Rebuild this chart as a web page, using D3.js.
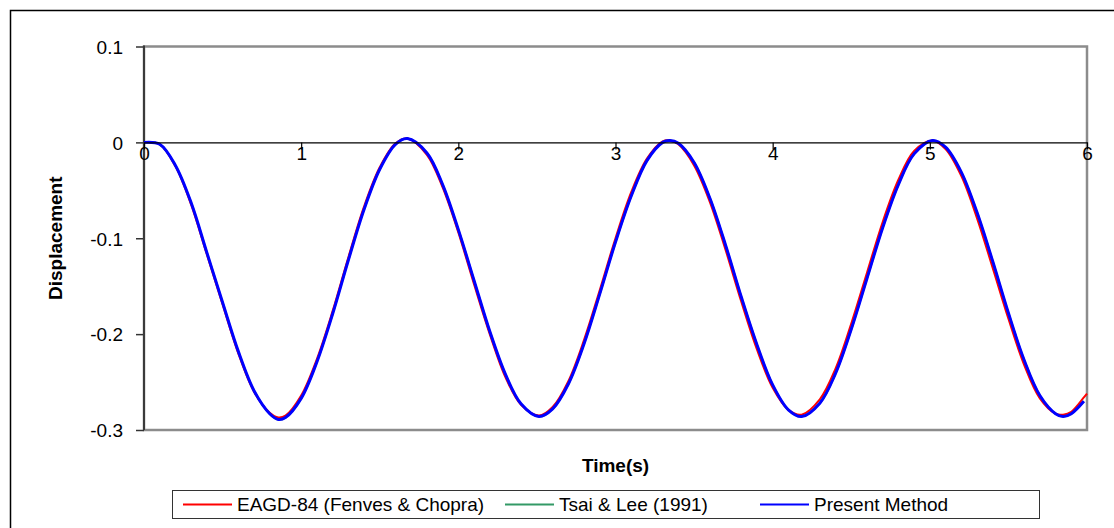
<!DOCTYPE html>
<html>
<head>
<meta charset="utf-8">
<script src="https://cdn.jsdelivr.net/npm/d3@7/dist/d3.min.js"></script>
<style>
  html, body { margin: 0; padding: 0; background: #fff; }
  svg { display: block; font-family: Arial, "Liberation Sans", sans-serif; }
</style>
</head>
<body>
<svg id="chart" width="1114" height="528"></svg>
<script>
// Time samples (s) shared by all three response histories
const times = [0, 0.1, 0.2, 0.3, 0.4, 0.5, 0.6, 0.7, 0.8, 0.855, 0.9, 1.0, 1.1, 1.2, 1.3, 1.4, 1.5, 1.6, 1.676,
  1.8, 1.9, 2.0, 2.1, 2.2, 2.3, 2.4, 2.513, 2.6, 2.7, 2.8, 2.9, 3.0, 3.1, 3.2, 3.3, 3.346,
  3.4, 3.5, 3.6, 3.7, 3.8, 3.9, 4.0, 4.1, 4.184, 4.3, 4.4, 4.5, 4.6, 4.7, 4.8, 4.9, 5.017,
  5.1, 5.2, 5.3, 5.4, 5.5, 5.6, 5.7, 5.8, 5.848, 5.9, 5.98, 6.0];

// Displacement histories
const eagd84 = [0, -0.002, -0.025, -0.065, -0.117, -0.169, -0.220, -0.260, -0.282, -0.287, -0.285, -0.264, -0.226, -0.176, -0.120, -0.067, -0.026, -0.001, 0.004,
  -0.013, -0.047, -0.094, -0.148, -0.200, -0.245, -0.274, -0.285, -0.276, -0.249, -0.206, -0.154, -0.100, -0.052, -0.017, 0.001, 0.002,
  -0.002, -0.024, -0.062, -0.112, -0.166, -0.216, -0.256, -0.279, -0.284, -0.268, -0.236, -0.189, -0.136, -0.083, -0.039, -0.009, 0.002,
  -0.007, -0.035, -0.079, -0.131, -0.184, -0.232, -0.267, -0.283, -0.284, -0.281, -0.266, -0.262];

const tsaiLee = [0, -0.002, -0.024, -0.063, -0.115, -0.167, -0.218, -0.259, -0.283, -0.289, -0.287, -0.267, -0.229, -0.179, -0.123, -0.070, -0.028, -0.002, 0.004,
  -0.011, -0.044, -0.091, -0.144, -0.197, -0.242, -0.273, -0.286, -0.278, -0.252, -0.210, -0.158, -0.104, -0.056, -0.019, 0.000, 0.002,
  -0.001, -0.021, -0.058, -0.107, -0.161, -0.211, -0.253, -0.279, -0.286, -0.272, -0.241, -0.195, -0.142, -0.089, -0.044, -0.012, 0.002,
  -0.005, -0.031, -0.073, -0.124, -0.178, -0.227, -0.264, -0.283, -0.286, -0.283, -0.270, null];

const presentMethod = [0, -0.002, -0.024, -0.063, -0.115, -0.167, -0.218, -0.259, -0.283, -0.289, -0.287, -0.267, -0.229, -0.179, -0.123, -0.070, -0.028, -0.002, 0.004,
  -0.011, -0.044, -0.091, -0.144, -0.197, -0.242, -0.273, -0.286, -0.278, -0.252, -0.210, -0.158, -0.104, -0.056, -0.019, 0.000, 0.002,
  -0.001, -0.021, -0.058, -0.107, -0.161, -0.211, -0.253, -0.279, -0.286, -0.272, -0.241, -0.195, -0.142, -0.089, -0.044, -0.012, 0.002,
  -0.005, -0.031, -0.073, -0.124, -0.178, -0.227, -0.264, -0.283, -0.286, -0.283, -0.270, null];

const seriesNames = ["EAGD-84 (Fenves & Chopra)", "Tsai & Lee (1991)", "Present Method"];
const seriesColors = ["#ff0000", "#339966", "#0000ff"];
const seriesWidths = [2, 2, 3];

const xTicks = [0, 1, 2, 3, 4, 5, 6];
const xTickLabels = ["0", "1", "2", "3", "4", "5", "6"];
const yTicks = [0.1, 0, -0.1, -0.2, -0.3];
const yTickLabels = ["0.1", "0", "-0.1", "-0.2", "-0.3"];

const svg = d3.select("#chart");
const W = 1114, H = 528;
const plot = { left: 144, top: 46.5, right: 1087, bottom: 430 };
const fontSize = 19;

svg.append("rect").attr("width", W).attr("height", H).attr("fill", "#fff");

// outer chart frame
svg.append("rect")
  .attr("x", 10.5).attr("y", 10.5)
  .attr("width", W).attr("height", H)
  .attr("fill", "none").attr("stroke", "#000").attr("stroke-width", 1.5);

const x = d3.scaleLinear().domain([0, 6]).range([plot.left, plot.right]);
const y = d3.scaleLinear().domain([-0.3, 0.1]).range([plot.bottom, plot.top]);

// plot area border
svg.append("rect")
  .attr("x", plot.left).attr("y", plot.top)
  .attr("width", plot.right - plot.left).attr("height", plot.bottom - plot.top)
  .attr("fill", "none").attr("stroke", "#8c8c8c").attr("stroke-width", 2.5);

// value axis on the left
const yAxis = svg.append("g")
  .attr("transform", `translate(${plot.left},0)`)
  .call(d3.axisLeft(y).tickValues(yTicks).tickSize(8).tickPadding(13)
    .tickFormat((d, i) => yTickLabels[i]));
yAxis.select(".domain").remove();
yAxis.selectAll(".tick line").attr("stroke", "#333").attr("stroke-width", 1.5);
yAxis.selectAll(".tick text").attr("font-size", fontSize).attr("fill", "#000")
  .attr("font-family", "Arial, 'Liberation Sans', sans-serif").attr("dy", "0.36em");
svg.append("line")
  .attr("x1", plot.left).attr("x2", plot.left)
  .attr("y1", plot.top - 1).attr("y2", plot.bottom)
  .attr("stroke", "#3a3a3a").attr("stroke-width", 2);

// time axis drawn along zero displacement
const xAxis = svg.append("g")
  .attr("transform", `translate(0,${y(0)})`)
  .call(d3.axisBottom(x).tickValues(xTicks).tickSize(7).tickSizeOuter(0)
    .tickFormat((d, i) => xTickLabels[i]));
xAxis.select(".domain").attr("stroke", "#000").attr("stroke-width", 1.2);
xAxis.selectAll(".tick line").attr("stroke", "#000").attr("stroke-width", 1.2);

// response curves
const line = d3.line()
  .defined(d => d[1] !== null)
  .x(d => x(d[0]))
  .y(d => y(d[1]))
  .curve(d3.curveCatmullRom.alpha(0.5));

const allSeries = [eagd84, tsaiLee, presentMethod];
allSeries.forEach((vals, k) => {
  svg.append("path")
    .datum(times.map((t, i) => [t, vals[i]]))
    .attr("fill", "none")
    .attr("stroke", seriesColors[k])
    .attr("stroke-width", seriesWidths[k])
    .attr("stroke-linejoin", "round")
    .attr("d", line);
});

// tick labels of the time axis sit over the curves
xAxis.raise();
xAxis.selectAll(".tick text")
  .attr("font-size", fontSize).attr("fill", "#000")
  .attr("font-family", "Arial, 'Liberation Sans', sans-serif")
  .attr("y", 11).attr("dy", "0.36em");

// axis titles
svg.append("text")
  .attr("x", (plot.left + plot.right) / 2).attr("y", 465)
  .attr("dy", "0.36em").attr("text-anchor", "middle")
  .attr("font-size", fontSize).attr("font-weight", "bold")
  .text("Time(s)");

svg.append("text")
  .attr("transform", `translate(55,${(plot.top + plot.bottom) / 2}) rotate(-90)`)
  .attr("dy", "0.36em").attr("text-anchor", "middle")
  .attr("font-size", fontSize).attr("font-weight", "bold")
  .text("Displacement");

// legend
const legend = svg.append("g");
const legX = 172.5, legY = 490.5, legH = 28, legW = 867;
const entryStarts = [183, 505, 760];
legend.append("rect")
  .attr("x", legX).attr("y", legY).attr("width", legW).attr("height", legH)
  .attr("fill", "#fff").attr("stroke", "#333").attr("stroke-width", 1);
seriesNames.forEach((name, k) => {
  const cx = entryStarts[k];
  legend.append("line")
    .attr("x1", cx).attr("x2", cx + 49)
    .attr("y1", legY + legH / 2).attr("y2", legY + legH / 2)
    .attr("stroke", seriesColors[k]).attr("stroke-width", 2);
  legend.append("text")
    .attr("x", cx + 54).attr("y", legY + legH / 2)
    .attr("dy", "0.36em").attr("font-size", fontSize)
    .text(name);
});
</script>
</body>
</html>
